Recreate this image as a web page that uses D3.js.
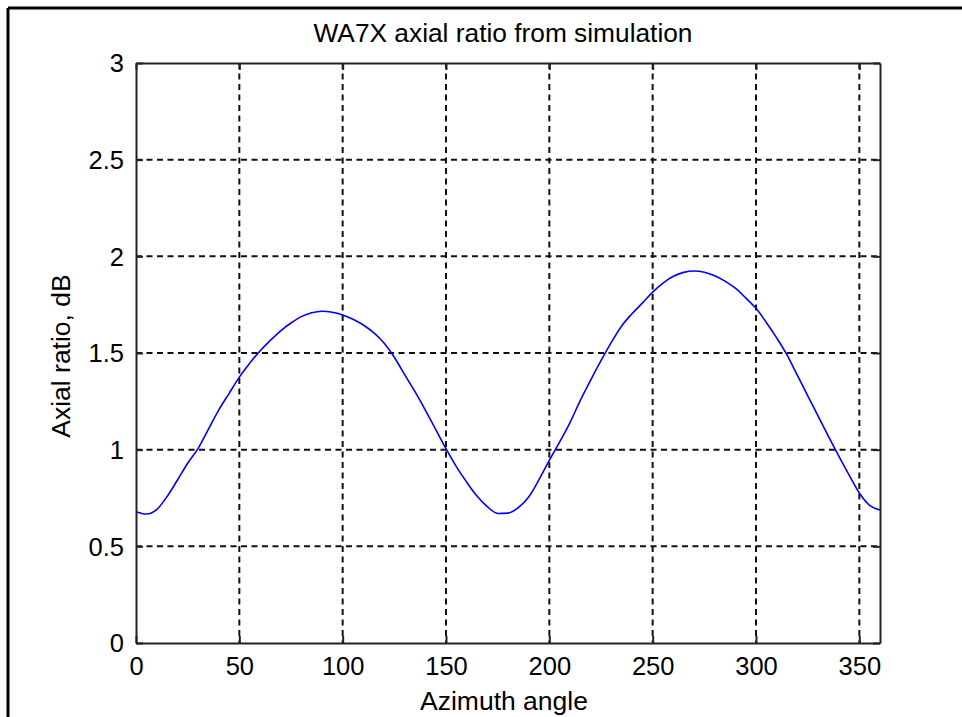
<!DOCTYPE html>
<html>
<head>
<meta charset="utf-8">
<script src="https://cdn.jsdelivr.net/npm/d3@7"></script>
<style>
  html, body { margin: 0; padding: 0; background: #fff; }
  svg { display: block; }
  text { font-family: "Liberation Sans", Arial, sans-serif; fill: #000; }
</style>
</head>
<body>
<svg id="chart" width="962" height="717"></svg>
<script>
// Simulated axial ratio (dB) versus azimuth angle (degrees)
const azimuth = [0, 5, 10, 15, 20, 25, 30, 35, 40, 45, 50, 55, 60, 65, 70, 75, 80, 85, 90,
  95, 100, 105, 110, 115, 120, 125, 130, 135, 140, 145, 150, 155, 160, 165, 170, 175, 180,
  185, 190, 195, 200, 205, 210, 215, 220, 225, 230, 235, 240, 245, 250, 255, 260, 265, 270,
  275, 280, 285, 290, 295, 300, 305, 310, 315, 320, 325, 330, 335, 340, 345, 350, 355, 360];
const axialRatio = [0.679, 0.667, 0.69, 0.757, 0.842, 0.93, 1.005, 1.105, 1.205, 1.29, 1.375,
  1.447, 1.51, 1.565, 1.615, 1.655, 1.688, 1.708, 1.716,
  1.711, 1.697, 1.675, 1.645, 1.605, 1.552, 1.478, 1.388, 1.30, 1.205, 1.105, 1.005, 0.912, 0.832,
  0.76, 0.705, 0.670, 0.672,
  0.70, 0.755, 0.845, 0.945, 1.04, 1.14, 1.255, 1.36, 1.46, 1.555, 1.64, 1.703, 1.758, 1.815,
  1.862, 1.897, 1.917, 1.924,
  1.918, 1.90, 1.872, 1.835, 1.785, 1.731, 1.658, 1.578, 1.49, 1.385, 1.28, 1.175, 1.07, 0.968,
  0.87, 0.776, 0.712, 0.688];
const xTicks = [0, 50, 100, 150, 200, 250, 300, 350];
const yTicks = [0, 0.5, 1, 1.5, 2, 2.5, 3];
const yTickLabels = ["0", "0.5", "1", "1.5", "2", "2.5", "3"];

const svg = d3.select("#chart");
const W = 962, H = 717;
const plot = { left: 136, right: 880, top: 63, bottom: 643 };

const x = d3.scaleLinear().domain([0, 360]).range([plot.left, plot.right]);
const y = d3.scaleLinear().domain([0, 3]).range([plot.bottom, plot.top]);

// window frame (left and top edges)
svg.append("line").attr("x1", 8).attr("x2", 8).attr("y1", 8).attr("y2", H)
  .attr("stroke", "#000").attr("stroke-width", 3);
svg.append("line").attr("x1", 8).attr("x2", W).attr("y1", 8).attr("y2", 8)
  .attr("stroke", "#000").attr("stroke-width", 3);

// dashed grid
const grid = svg.append("g").attr("stroke", "#111").attr("stroke-width", 2)
  .attr("stroke-dasharray", "6,4.5");
grid.selectAll("line.gx").data(xTicks.filter(d => d > 0)).enter().append("line")
  .attr("x1", d => x(d)).attr("x2", d => x(d))
  .attr("y1", plot.top).attr("y2", plot.bottom);
grid.selectAll("line.gy").data(yTicks.filter(d => d > 0 && d < 3)).enter().append("line")
  .attr("x1", plot.left).attr("x2", plot.right)
  .attr("y1", d => y(d)).attr("y2", d => y(d));

// curve
const line = d3.line().x((d, i) => x(azimuth[i])).y(d => y(d)).curve(d3.curveMonotoneX);
svg.append("path").datum(axialRatio)
  .attr("d", line)
  .attr("fill", "none").attr("stroke", "#0000ff").attr("stroke-width", 1.6);

// axes: bottom/left with labels, top/right mirrored ticks
const tickLen = 7;
const xAxis = d3.axisBottom(x).tickValues(xTicks).tickSizeInner(-tickLen).tickSizeOuter(0).tickPadding(14);
const yAxis = d3.axisLeft(y).tickValues(yTicks).tickFormat((d, i) => yTickLabels[i])
  .tickSizeInner(-tickLen).tickSizeOuter(0).tickPadding(12);

const gx = svg.append("g").attr("transform", `translate(0,${plot.bottom})`).call(xAxis);
const gy = svg.append("g").attr("transform", `translate(${plot.left},0)`).call(yAxis);
const gxTop = svg.append("g").attr("transform", `translate(0,${plot.top})`)
  .call(d3.axisTop(x).tickValues(xTicks).tickSizeInner(-tickLen).tickSizeOuter(0).tickFormat(""));
const gyRight = svg.append("g").attr("transform", `translate(${plot.right},0)`)
  .call(d3.axisRight(y).tickValues(yTicks).tickSizeInner(-tickLen).tickSizeOuter(0).tickFormat(""));

[gx, gy, gxTop, gyRight].forEach(g => {
  g.select(".domain").attr("stroke", "#222").attr("stroke-width", 2);
  g.selectAll(".tick line").attr("stroke", "#222").attr("stroke-width", 2);
  g.selectAll(".tick text").style("font-family", "'Liberation Sans', Arial, sans-serif")
    .style("font-size", "25.5px").attr("fill", "#000");
});
gy.selectAll(".tick text").attr("dy", "0.35em");

// title and axis labels
svg.append("text").attr("x", 503).attr("y", 42).attr("text-anchor", "middle")
  .style("font-size", "26.3px").text("WA7X axial ratio from simulation");
svg.append("text").attr("x", 504).attr("y", 710).attr("text-anchor", "middle")
  .style("font-size", "26.5px").text("Azimuth angle");
svg.append("text").attr("transform", "translate(70,356) rotate(-90)").attr("text-anchor", "middle")
  .style("font-size", "26.5px").text("Axial ratio, dB");
</script>
</body>
</html>
